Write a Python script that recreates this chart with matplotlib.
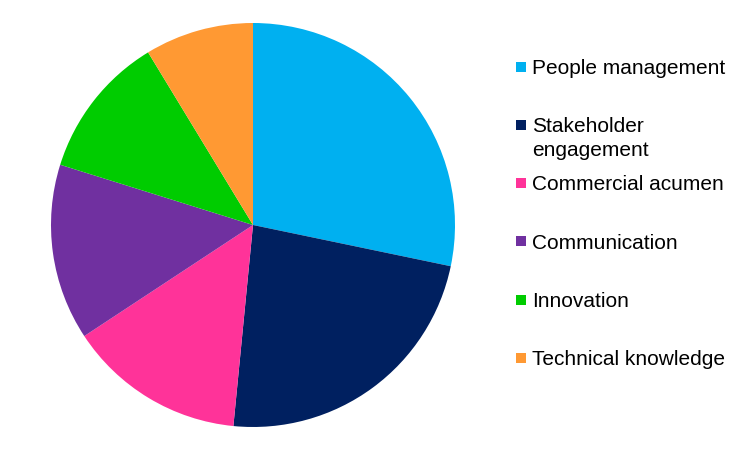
import matplotlib
matplotlib.use("Agg")
import matplotlib.pyplot as plt
from matplotlib.patches import Rectangle

categories = ["People management", "Stakeholder\nengagement", "Commercial acumen",
              "Communication", "Innovation", "Technical knowledge"]
values = [28.3, 23.3, 14.2, 14.1, 11.5, 8.7]
colors = ["#00B0F0", "#002060", "#FF3399", "#7030A0", "#00CC00", "#FF9933"]

plt.rcParams['font.family'] = ['Liberation Sans', 'DejaVu Sans']

W, H = 750, 450
fig = plt.figure(figsize=(W / 100, H / 100), dpi=100)
cx, cy, r = 253, 225, 202
ax = fig.add_axes([(cx - r) / W, (H - cy - r) / H, 2 * r / W, 2 * r / H])
ax.pie(values, colors=colors, startangle=90, counterclock=False, radius=1,
       wedgeprops=dict(linewidth=0))
ax.set_xlim(-1, 1)
ax.set_ylim(-1, 1)
ax.set_aspect('equal')
ax.axis('off')

# legend
fs = 15
step = 58.2
for i, (lab, col) in enumerate(zip(categories, colors)):
    base = 74 + step * i
    mc = 66.7 + step * i
    fig.patches.append(Rectangle(((516) / W, 1 - (mc + 5) / H), 10 / W, 10 / H,
                                 transform=fig.transFigure, facecolor=col,
                                 edgecolor='none'))
    for j, line in enumerate(lab.split("\n")):
        fig.text(532 / W, 1 - (base + 24 * j) / H, line, fontsize=fs,
                 color='#000000', ha='left', va='baseline')

fig.savefig("out.png", dpi=100, facecolor='white')
